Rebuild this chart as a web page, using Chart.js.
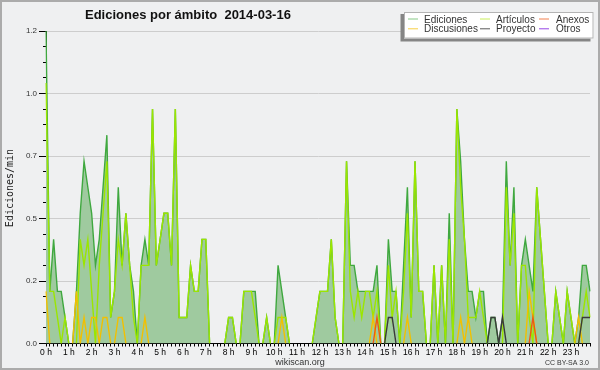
<!DOCTYPE html>
<html lang="es">
<head>
<meta charset="utf-8">
<title>Ediciones por ámbito 2014-03-16</title>
<script src="https://cdn.jsdelivr.net/npm/chart.js@4.4.1/dist/chart.umd.min.js"></script>
<style>
    html, body { margin: 0; padding: 0; background: #eff0f1; }
    #wrap { width: 600px; height: 370px; }
</style>
</head>
<body>
<div id="wrap"><canvas id="editsChart" width="600" height="370"></canvas></div>
<script>
// one value every 10 minutes, edits per minute
const hourLabels = ["0 h", "1 h", "2 h", "3 h", "4 h", "5 h", "6 h", "7 h", "8 h", "9 h", "10 h", "11 h",
    "12 h", "13 h", "14 h", "15 h", "16 h", "17 h", "18 h", "19 h", "20 h", "21 h", "22 h", "23 h"];
const slotsPerHour = 6;

const ediciones = [
    1.2, 0.2, 0.4, 0.2, 0.2, 0.1, 0, 0, 0.2, 0.5, 0.7, 0.6,
    0.5, 0.3, 0.4, 0.6, 0.8, 0.1, 0.2, 0.6, 0.3, 0.5, 0.3, 0.2,
    0, 0.3, 0.4, 0.3, 0.9, 0.3, 0.4, 0.5, 0.5, 0.3, 0.9, 0.1,
    0.1, 0.1, 0.3, 0.2, 0.2, 0.4, 0.4, 0, 0, 0, 0, 0,
    0.1, 0.1, 0, 0, 0.2, 0.2, 0.2, 0.2, 0, 0, 0.1, 0,
    0, 0.3, 0.2, 0.1, 0, 0, 0, 0, 0, 0, 0, 0.1,
    0.2, 0.2, 0.2, 0.4, 0.1, 0, 0, 0.7, 0.3, 0.3, 0.2, 0.2,
    0.2, 0.2, 0.2, 0.3, 0, 0, 0.4, 0.2, 0.2, 0, 0.3, 0.6,
    0.1, 0.7, 0.2, 0.2, 0, 0, 0.3, 0, 0.3, 0, 0.5, 0,
    0.9, 0.7, 0.4, 0.2, 0.2, 0.1, 0.2, 0.2, 0, 0.1, 0.1, 0,
    0.1, 0.7, 0.3, 0.6, 0, 0.3, 0.4, 0.3, 0.2, 0.6, 0.4, 0.2,
    0, 0, 0.2, 0.1, 0, 0.2, 0.1, 0, 0.1, 0.3, 0.3, 0.2
];
const articulos = [
    1.0, 0.2, 0.2, 0.1, 0, 0.1, 0, 0, 0, 0.4, 0.3, 0.4,
    0.2, 0, 0.3, 0.5, 0.7, 0.1, 0.2, 0.4, 0.3, 0.5, 0.3, 0.1,
    0, 0.3, 0.3, 0.3, 0.9, 0.3, 0.4, 0.5, 0.5, 0.3, 0.9, 0.1,
    0.1, 0.1, 0.3, 0.2, 0.2, 0.4, 0.4, 0, 0, 0, 0, 0,
    0.1, 0.1, 0, 0, 0.2, 0.2, 0.2, 0.1, 0, 0, 0.1, 0,
    0, 0.1, 0.1, 0.1, 0, 0, 0, 0, 0, 0, 0, 0.1,
    0.2, 0.2, 0.2, 0.4, 0.1, 0, 0, 0.7, 0.2, 0.1, 0.2, 0.1,
    0.2, 0.2, 0.1, 0.2, 0, 0, 0.3, 0.1, 0.2, 0, 0.2, 0.5,
    0.1, 0.7, 0.2, 0.2, 0, 0, 0.3, 0, 0.3, 0, 0.4, 0,
    0.9, 0.6, 0.4, 0.1, 0.1, 0.1, 0.2, 0.1, 0, 0, 0, 0,
    0, 0.6, 0.3, 0.5, 0, 0.3, 0.3, 0.1, 0, 0.6, 0.4, 0.2,
    0, 0, 0.2, 0.1, 0, 0.2, 0.1, 0, 0, 0.1, 0.2, 0.1
];
const anexos = [
    0, 0, 0, 0, 0, 0, 0, 0, 0, 0, 0, 0,
    0, 0, 0, 0, 0, 0, 0, 0, 0, 0, 0, 0,
    0, 0, 0, 0, 0, 0, 0, 0, 0, 0, 0, 0,
    0, 0, 0, 0, 0, 0, 0, 0, 0, 0, 0, 0,
    0, 0, 0, 0, 0, 0, 0, 0, 0, 0, 0, 0,
    0, 0, 0, 0, 0, 0, 0, 0, 0, 0, 0, 0,
    0, 0, 0, 0, 0, 0, 0, 0, 0, 0, 0, 0,
    0, 0, 0, 0.1, 0, 0, 0, 0, 0, 0, 0, 0,
    0, 0, 0, 0, 0, 0, 0, 0, 0, 0, 0, 0,
    0, 0, 0, 0, 0, 0, 0, 0, 0, 0, 0, 0,
    0, 0, 0, 0, 0, 0, 0, 0, 0.1, 0, 0, 0,
    0, 0, 0, 0, 0, 0, 0, 0, 0, 0, 0, 0
];
const discusiones = [
    0.2, 0, 0, 0, 0, 0, 0, 0, 0.2, 0, 0.1, 0,
    0.1, 0.1, 0, 0.1, 0.1, 0, 0, 0.1, 0.1, 0, 0, 0,
    0, 0, 0.1, 0, 0, 0, 0, 0, 0, 0, 0, 0,
    0, 0, 0, 0, 0, 0, 0, 0, 0, 0, 0, 0,
    0, 0, 0, 0, 0, 0, 0, 0, 0, 0, 0, 0,
    0, 0, 0.1, 0, 0, 0, 0, 0, 0, 0, 0, 0,
    0, 0, 0, 0, 0, 0, 0, 0, 0, 0, 0, 0,
    0, 0, 0.1, 0, 0, 0, 0, 0, 0, 0, 0, 0.1,
    0, 0, 0, 0, 0, 0, 0, 0, 0, 0, 0, 0,
    0, 0.1, 0, 0.1, 0, 0, 0, 0, 0, 0, 0, 0,
    0, 0, 0, 0, 0, 0, 0, 0.2, 0.1, 0, 0, 0,
    0, 0, 0, 0, 0, 0, 0, 0, 0.1, 0, 0, 0
];
const proyecto = [
    0, 0, 0, 0, 0, 0, 0, 0, 0, 0, 0, 0,
    0, 0, 0, 0, 0, 0, 0, 0, 0, 0, 0, 0,
    0, 0, 0, 0, 0, 0, 0, 0, 0, 0, 0, 0,
    0, 0, 0, 0, 0, 0, 0, 0, 0, 0, 0, 0,
    0, 0, 0, 0, 0, 0, 0, 0, 0, 0, 0, 0,
    0, 0, 0, 0, 0, 0, 0, 0, 0, 0, 0, 0,
    0, 0, 0, 0, 0, 0, 0, 0, 0, 0, 0, 0,
    0, 0, 0, 0, 0, 0, 0.1, 0.1, 0, 0, 0, 0,
    0, 0, 0, 0, 0, 0, 0, 0, 0, 0, 0, 0,
    0, 0, 0, 0, 0, 0, 0, 0, 0, 0.1, 0.1, 0,
    0.1, 0, 0, 0, 0, 0, 0, 0, 0, 0, 0, 0,
    0, 0, 0, 0, 0, 0, 0, 0, 0, 0.1, 0.1, 0.1
];
const otros = [
    0, 0, 0, 0, 0, 0, 0, 0, 0, 0, 0, 0,
    0, 0, 0, 0, 0, 0, 0, 0, 0, 0, 0, 0,
    0, 0, 0, 0, 0, 0, 0, 0, 0, 0, 0, 0,
    0, 0, 0, 0, 0, 0, 0, 0, 0, 0, 0, 0,
    0, 0, 0, 0, 0, 0, 0, 0, 0, 0, 0, 0,
    0, 0, 0, 0, 0, 0, 0, 0, 0, 0, 0, 0,
    0, 0, 0, 0, 0, 0, 0, 0, 0, 0, 0, 0,
    0, 0, 0, 0, 0, 0, 0, 0, 0, 0, 0, 0,
    0, 0, 0, 0, 0, 0, 0, 0, 0, 0, 0, 0,
    0, 0, 0, 0, 0, 0, 0, 0, 0, 0, 0, 0,
    0, 0, 0, 0, 0, 0, 0, 0, 0, 0, 0, 0,
    0, 0, 0, 0, 0, 0, 0, 0, 0, 0, 0, 0
];

const yMax = 1.2;
const yMajorStep = 0.24;
const yMinorStep = 0.06;

const titleText = "Ediciones por ámbito  2014-03-16";
const yTitle = "Ediciones/min";

// legend, read row by row
const legendNames = ["Ediciones", "Artículos", "Anexos", "Discusiones", "Proyecto", "Otros"];
const legendColors = ["#86c986", "#c9ee5a", "#f2804e", "#f7cf45", "#5a5a5a", "#9646e6"];

const slotLabels = [];
hourLabels.forEach((h) => {
    for (let s = 0; s < slotsPerHour; s++) slotLabels.push(s === 0 ? h : "");
});

const decorations = {
    id: "decorations",
    beforeDraw(chart) {
        const c = chart.ctx;
        c.save();
        c.fillStyle = "#eff0f1";
        c.fillRect(0, 0, chart.width, chart.height);
        c.restore();
    },
    afterDraw(chart) {
        const c = chart.ctx;
        c.save();

        // frame round the picture
        c.strokeStyle = "#ababab";
        c.lineWidth = 2;
        c.strokeRect(1, 1, chart.width - 2, chart.height - 2);

        c.fillStyle = "#111";
        c.font = "bold 13px 'Liberation Sans', sans-serif";
        c.textBaseline = "alphabetic";
        c.textAlign = "left";
        c.fillText(titleText, 85, 18.5);

        // legend box with its shadow
        c.fillStyle = "#858585";
        c.fillRect(400.5, 14, 190, 27.5);
        c.fillStyle = "#ffffff";
        c.fillRect(404, 12, 189.5, 26.5);
        c.strokeStyle = "#b4b4b4";
        c.lineWidth = 1;
        c.strokeRect(404.5, 12.5, 188.5, 25.5);

        const lineX = [408, 480, 539];
        const textX = [424, 496, 556];
        const baseY = [22.5, 32.3];
        c.font = "10px 'Liberation Sans', sans-serif";
        legendNames.forEach((name, i) => {
            const col = i % 3, row = Math.floor(i / 3);
            c.strokeStyle = legendColors[i];
            c.lineWidth = 1;
            c.beginPath();
            c.moveTo(lineX[col], baseY[row] - 3.5);
            c.lineTo(lineX[col] + 10, baseY[row] - 3.5);
            c.stroke();
            c.fillStyle = "#333";
            c.fillText(name, textX[col], baseY[row]);
        });

        c.fillStyle = "#333";
        c.font = "9px 'Liberation Sans', sans-serif";
        c.textAlign = "center";
        c.fillText("wikiscan.org", 300, 365);
        c.font = "7px 'Liberation Sans', sans-serif";
        c.textAlign = "right";
        c.fillText("CC BY-SA 3.0", 589, 365);

        c.translate(10, 188);
        c.rotate(-Math.PI / 2);
        c.fillStyle = "#222";
        c.font = "10px 'DejaVu Sans Mono', monospace";
        c.textAlign = "center";
        c.textBaseline = "middle";
        c.fillText(yTitle, 0, 0);

        c.restore();
    }
};

// runs of zeros are not stroked, they would only smear the x axis
const hideZeroRun = (s) => (s.p0.parsed.y === 0 && s.p1.parsed.y === 0 ? "transparent" : undefined);

document.addEventListener("DOMContentLoaded", () => {
    const ctx = document.getElementById("editsChart").getContext("2d");
    const line = (label, data, color, order, extra) => Object.assign({
        label, data, order,
        borderColor: color,
        borderWidth: 1.4,
        pointRadius: 0,
        tension: 0,
        fill: false,
        segment: { borderColor: hideZeroRun }
    }, extra || {});

    new Chart(ctx, {
        type: "line",
        data: {
            labels: slotLabels,
            datasets: [
                line("Ediciones", ediciones, "#3fa83f", 6, { fill: "origin", backgroundColor: "#9fca9f" }),
                line("Artículos", articulos, "#9be600", 5),
                line("Discusiones", discusiones, "#f2c000", 4),
                line("Anexos", anexos, "#ee5a12", 3),
                line("Proyecto", proyecto, "#3a3a3a", 2),
                line("Otros", otros, "#9933ee", 1)
            ]
        },
        options: {
            responsive: false,
            animation: false,
            layout: { padding: { top: 31, right: 10, left: 0, bottom: 0 } },
            plugins: {
                legend: { display: false },
                tooltip: { enabled: false }
            },
            scales: {
                x: {
                    z: 1,
                    grid: { drawOnChartArea: false, tickLength: 3, tickColor: "#000" },
                    border: { color: "#000", width: 1 },
                    ticks: {
                        autoSkip: false,
                        maxRotation: 0,
                        minRotation: 0,
                        padding: 1,
                        color: "#000",
                        font: { family: "'Liberation Sans', sans-serif", size: 8.5 },
                        callback: (value, index) => slotLabels[index]
                    },
                    afterFit: (scale) => { scale.height = 26.5; }
                },
                y: {
                    min: 0,
                    max: yMax,
                    grid: {
                        color: (c) => (c.index % 4 === 0 ? "#cdcdcd" : "transparent"),
                        tickColor: "#000",
                        tickLength: 7,
                        tickBorderDash: (c) => (c.index % 4 === 0 ? [] : [0, 4, 3, 20])
                    },
                    border: { color: "#000", width: 1 },
                    ticks: {
                        stepSize: yMinorStep,
                        autoSkip: false,
                        padding: 2,
                        color: "#333",
                        font: { family: "'Liberation Sans', sans-serif", size: 8 },
                        callback: (value, index) => (index % Math.round(yMajorStep / yMinorStep) === 0 ? value.toFixed(1) : "")
                    },
                    afterFit: (scale) => { scale.width = 46; }
                }
            }
        },
        plugins: [decorations]
    });
});
</script>
</body>
</html>
